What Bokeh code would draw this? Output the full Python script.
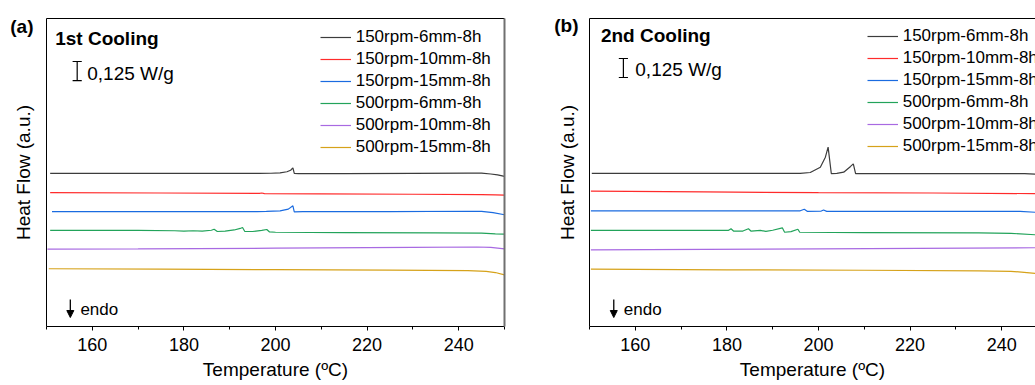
from bokeh.plotting import figure
from bokeh.models import (Range1d, FixedTicker, LinearAxis, Legend, LegendItem,
                          Label, Arrow, NormalHead)
from bokeh.layouts import row
from bokeh.embed import file_html
from bokeh.resources import INLINE

# ---------------- data ----------------
SERIES = ["150rpm-6mm-8h", "150rpm-10mm-8h", "150rpm-15mm-8h",
          "500rpm-6mm-8h", "500rpm-10mm-8h", "500rpm-15mm-8h"]
COLORS = ["#3c3c3c", "#ff2b2b", "#1a6be0", "#22a35a", "#a86ae2", "#d6a21a"]

X_TICKS = [160, 180, 200, 220, 240]
X_MINOR = [150, 160, 170, 180, 190, 200, 210, 220, 230, 240, 250]
SCALE_WG = 0.125

# (a) 1st Cooling  -- temperature (C) and heat flow (W/g, offset)
a1_t = [150.8, 170, 190, 196.5, 199, 201, 202.5, 203.3, 203.8, 204.1, 205, 215, 230, 242, 245, 247, 248.5, 250]
a1_y = [1.007, 1.007, 1.007, 1.007, 1.008, 1.011, 1.018, 1.028, 1.043, 1.007, 1.005, 1.005, 1.007, 1.009, 1.009, 1.003, 0.997, 0.988]
a2_t = [150.8, 175, 196.5, 197, 197.6, 210, 230, 245, 248, 250]
a2_y = [0.880, 0.878, 0.876, 0.878, 0.874, 0.872, 0.870, 0.868, 0.866, 0.864]
a3_t = [151.2, 175, 196, 198, 201, 202.8, 203.8, 204.1, 206, 225, 242, 245, 247.5, 250]
a3_y = [0.755, 0.755, 0.755, 0.757, 0.761, 0.772, 0.794, 0.754, 0.755, 0.756, 0.758, 0.757, 0.749, 0.735]
a4_t = [150.8, 170, 178, 180, 182, 184, 186, 186.6, 187.3, 189, 191, 192.3, 192.8, 193.3, 195, 197, 198.1, 198.7, 200, 215, 235, 245, 248, 250]
a4_y = [0.632, 0.632, 0.630, 0.627, 0.630, 0.627, 0.633, 0.640, 0.625, 0.627, 0.635, 0.645, 0.651, 0.625, 0.625, 0.632, 0.638, 0.622, 0.620, 0.618, 0.616, 0.614, 0.609, 0.607]
a5_t = [150.2, 170, 200, 230, 244, 247, 250]
a5_y = [0.509, 0.511, 0.515, 0.520, 0.523, 0.521, 0.510]
a6_t = [150.5, 175, 200, 225, 242, 246, 248, 250]
a6_y = [0.380, 0.377, 0.374, 0.371, 0.368, 0.363, 0.355, 0.340]

# (b) 2nd Cooling
b1_t = [150.5, 175, 196, 198.2, 200.4, 201.5, 202.1, 202.8, 204, 205.5, 207, 207.6, 208.1, 225, 245, 248]
b1_y = [1.007, 1.007, 1.007, 1.013, 1.048, 1.114, 1.180, 1.005, 1.007, 1.015, 1.053, 1.070, 1.005, 1.005, 1.006, 1.001]
b2_t = [150.3, 175, 200, 225, 247, 250]
b2_y = [0.890, 0.885, 0.880, 0.878, 0.874, 0.871]
b3_t = [150.3, 180, 196, 196.9, 197.6, 200.5, 201.1, 201.8, 220, 244, 247.5, 250]
b3_y = [0.761, 0.761, 0.761, 0.771, 0.757, 0.758, 0.766, 0.757, 0.757, 0.757, 0.751, 0.745]
b4_t = [150.3, 175, 180.3, 180.9, 181.5, 183.5, 184.7, 185.3, 187.3, 188.5, 190, 192.1, 192.6, 194, 195.5, 195.9, 210, 235, 242, 247.5, 250]
b4_y = [0.632, 0.632, 0.632, 0.643, 0.627, 0.628, 0.643, 0.627, 0.632, 0.626, 0.633, 0.649, 0.620, 0.624, 0.640, 0.620, 0.618, 0.616, 0.613, 0.603, 0.599]
b5_t = [150.3, 200, 247.5, 250]
b5_y = [0.504, 0.510, 0.518, 0.518]
b6_t = [150.3, 180, 210, 235, 242, 245.5, 247.5, 250]
b6_y = [0.377, 0.373, 0.370, 0.366, 0.363, 0.355, 0.349, 0.336]

FONT = "Liberation Sans"
Y_MAX = 2.026
A_FRAME_W = 458
B_FRAME_W = 446


def make_panel(tag, title, ts, ys, width, left, right, x_end, right_border,
               tag_y, tag_standoff, ylab_standoff, title_x, title_y, bar_x, bar_top,
               txt_x, txt_y, endo_x, leg_loc):
    p = figure(width=width, height=385, output_backend="svg", toolbar_location=None,
               x_range=Range1d(150, x_end), y_range=Range1d(0, Y_MAX),
               min_border_left=left, min_border_right=right,
               min_border_top=18, min_border_bottom=59,
               outline_line_color=None, background_fill_color="white",
               border_fill_color="white")
    p.xgrid.grid_line_color = None
    p.ygrid.grid_line_color = None

    xa = p.xaxis[0]
    xa.ticker = FixedTicker(ticks=X_TICKS, minor_ticks=X_MINOR)
    xa.major_tick_out = 4
    xa.major_tick_in = 0
    xa.minor_tick_out = 3
    xa.minor_tick_in = 0
    xa.axis_line_color = "black"
    xa.major_tick_line_color = "black"
    xa.minor_tick_line_color = "black"
    xa.major_label_text_font = FONT
    xa.major_label_text_font_size = "18px"
    xa.major_label_text_color = "black"
    xa.major_label_standoff = 7
    xa.axis_label = "Temperature (ºC)"
    xa.axis_label_text_font = FONT
    xa.axis_label_text_font_size = "19px"
    xa.axis_label_text_font_style = "normal"
    xa.axis_label_text_color = "black"
    xa.axis_label_standoff = 5

    # left axis: panel tag as its only tick label, axis title beside it
    ya = p.yaxis[0]
    ya.ticker = FixedTicker(ticks=[tag_y])
    ya.major_label_overrides = {tag_y: tag}
    ya.major_label_text_font = FONT
    ya.major_label_text_font_size = "19px"
    ya.major_label_text_font_style = "bold"
    ya.major_label_text_color = "black"
    ya.major_label_standoff = tag_standoff
    ya.major_tick_out = 0
    ya.major_tick_in = 0
    ya.minor_tick_out = 0
    ya.minor_tick_in = 0
    ya.axis_line_color = "black"
    ya.axis_label = "Heat Flow (a.u.)"
    ya.axis_label_text_font = FONT
    ya.axis_label_text_font_size = "19px"
    ya.axis_label_text_font_style = "normal"
    ya.axis_label_text_color = "black"
    ya.axis_label_standoff = ylab_standoff

    top = LinearAxis(ticker=FixedTicker(ticks=[]), major_tick_out=0, minor_tick_out=0,
                     major_label_text_font_size="0px", axis_line_color="black")
    p.add_layout(top, "above")
    if right_border:
        rt = LinearAxis(ticker=FixedTicker(ticks=[]), major_tick_out=0, minor_tick_out=0,
                        major_label_text_font_size="0px", axis_line_color="#707070",
                        axis_line_width=2)
        p.add_layout(rt, "right")

    items = []
    for name, col, t, y in zip(SERIES, COLORS, ts, ys):
        r = p.line(t, y, line_color=col, line_width=1.2)
        items.append(LegendItem(label=name, renderers=[r]))

    leg = Legend(items=items, location=leg_loc, padding=0, margin=0, spacing=2,
                 glyph_width=31, glyph_height=20, label_height=20, label_standoff=5,
                 border_line_color=None, background_fill_alpha=0,
                 label_text_font=FONT, label_text_font_size="17px",
                 label_text_color="black")
    p.add_layout(leg)

    p.add_layout(Label(x=title_x, y=title_y, text=title, text_font=FONT, text_font_size="19px",
                       text_font_style="bold", text_baseline="middle", text_align="left",
                       text_color="black"))

    # scale bar
    bar_bot = bar_top - SCALE_WG
    p.segment(x0=[bar_x, bar_x - 1.0, bar_x - 1.0], y0=[bar_top, bar_top, bar_bot],
              x1=[bar_x, bar_x + 1.0, bar_x + 1.0], y1=[bar_bot, bar_top, bar_bot],
              line_color="black", line_width=1.2)
    p.add_layout(Label(x=txt_x, y=txt_y, text="0,125 W/g", text_font=FONT,
                       text_font_size="19px", text_baseline="middle", text_align="left",
                       text_color="black"))

    # endo arrow
    p.add_layout(Arrow(end=NormalHead(size=7, fill_color="black", line_color="black"),
                       x_start=endo_x, y_start=0.178, x_end=endo_x, y_end=0.059,
                       line_color="black", line_width=1.3))
    p.add_layout(Label(x=endo_x + 2.2, y=0.112, text="endo", text_font=FONT,
                       text_font_size="17px", text_baseline="middle", text_align="left",
                       text_color="black"))
    return p


pa = make_panel("(a)", "1st Cooling",
                [a1_t, a2_t, a3_t, a4_t, a5_t, a6_t], [a1_y, a2_y, a3_y, a4_y, a5_y, a6_y],
                width=520, left=46, right=16, x_end=250, right_border=True,
                tag_y=1.974, tag_standoff=13, ylab_standoff=-27,
                title_x=151.9, title_y=1.895,
                bar_x=156.7, bar_top=1.743, txt_x=158.9, txt_y=1.664,
                endo_x=155.2, leg_loc=(273.7, 169))

pb = make_panel("(b)", "2nd Cooling",
                [b1_t, b2_t, b3_t, b4_t, b5_t, b6_t], [b1_y, b2_y, b3_y, b4_y, b5_y, b6_y],
                width=515, left=69, right=0, x_end=150 + 100 * B_FRAME_W / A_FRAME_W,
                right_border=False,
                tag_y=1.980, tag_standoff=11, ylab_standoff=-27,
                title_x=152.5, title_y=1.914,
                bar_x=157.4, bar_top=1.763, txt_x=160.0, txt_y=1.691,
                endo_x=155.3, leg_loc=(277.7, 170))

layout = row(pa, pb)
open("out.html", "w").write(file_html(layout, INLINE))
